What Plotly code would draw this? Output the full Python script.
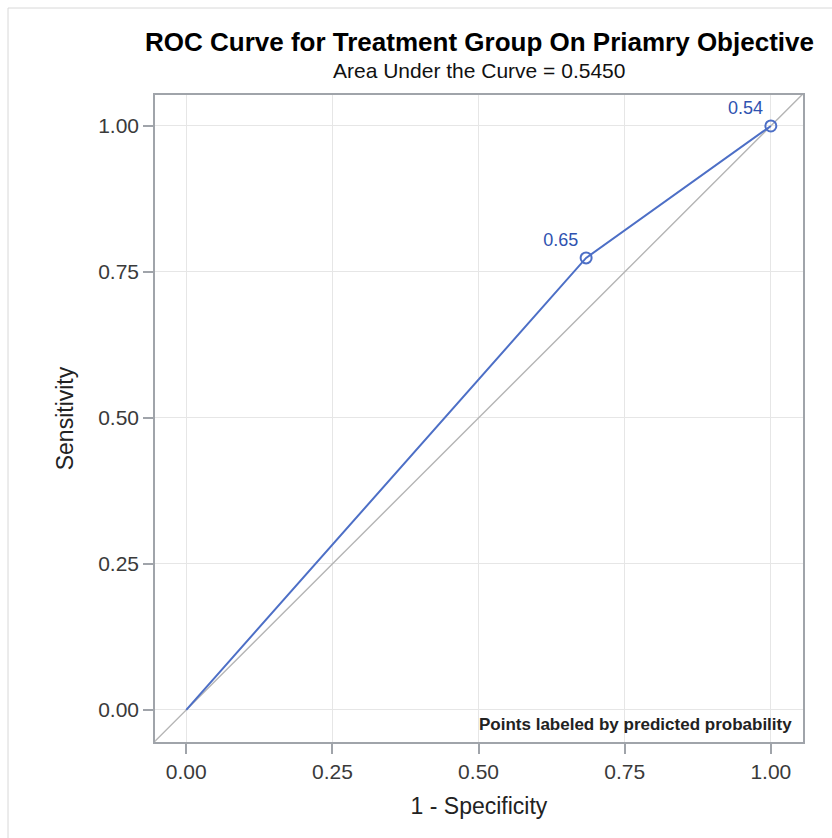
import plotly.graph_objects as go

# Data
fpr = [0.0, 0.684, 1.0]
tpr = [0.0, 0.774, 1.0]
point_labels = ["", "0.65", "0.54"]
ref_line = [-0.1, 1.1]
x_ticks = [0.0, 0.25, 0.5, 0.75, 1.0]
y_ticks = [0.0, 0.25, 0.5, 0.75, 1.0]
x_ticklabels = ["0.00", "0.25", "0.50", "0.75", "1.00"]
y_ticklabels = ["0.00", "0.25", "0.50", "0.75", "1.00"]
auc = 0.5450

FONT = "Liberation Sans, Arial, sans-serif"
BLUE = "#4d6fc6"
LABEL_BLUE = "#2f52b0"
GRID = "#e6e6e6"
AXIS = "#a0a4aa"

# plot area in pixels
L, R, T, B = 155, 803, 95, 742
W, H = 832, 838
PW, PH = R - L, B - T


def py(pix):
    return (B - pix) / PH


def px(pix):
    return (pix - L) / PW


fig = go.Figure()

# reference diagonal
fig.add_trace(go.Scatter(x=ref_line, y=ref_line, mode="lines",
                         line=dict(color="#b4b4b4", width=1.4),
                         hoverinfo="skip", showlegend=False))

# ROC curve line
fig.add_trace(go.Scatter(x=fpr, y=tpr, mode="lines",
                         line=dict(color=BLUE, width=2),
                         showlegend=False))

# labeled points
fig.add_trace(go.Scatter(x=fpr[1:], y=tpr[1:], mode="markers+text",
                         marker=dict(symbol="circle-open", size=11,
                                     color=BLUE, line=dict(width=2)),
                         text=point_labels[1:], textposition="top left",
                         textfont=dict(family=FONT, size=18, color=LABEL_BLUE),
                         cliponaxis=False, showlegend=False))

fig.update_layout(
    width=W, height=H,
    paper_bgcolor="white", plot_bgcolor="white",
    margin=dict(l=L, r=W - R, t=T, b=H - B),
    font=dict(family=FONT, color="#333333"),
    annotations=[
        dict(text="<b>ROC Curve for Treatment Group On Priamry Objective</b>",
             xref="paper", yref="paper", x=0.5, y=py(42),
             xanchor="center", yanchor="middle", showarrow=False,
             font=dict(family=FONT, size=26, color="#000000")),
        dict(text="Area Under the Curve = %.4f" % auc, xref="paper", yref="paper",
             x=0.5, y=py(71), xanchor="center", yanchor="middle",
             showarrow=False, font=dict(family=FONT, size=21, color="#111111")),
        dict(text="<b>Points labeled by predicted probability</b>", xref="paper", yref="paper",
             x=px(794), y=py(736), xanchor="right", yanchor="bottom",
             showarrow=False, font=dict(family=FONT, size=17, color="#222222")),
    ],
    shapes=[
        dict(type="line", xref="paper", yref="paper",
             x0=px(8), x1=px(8), y0=py(900), y1=py(8),
             line=dict(color="#d8d8d8", width=1)),
        dict(type="line", xref="paper", yref="paper",
             x0=px(8), x1=px(900), y0=py(8), y1=py(8),
             line=dict(color="#d8d8d8", width=1)),
    ],
)

fig.update_xaxes(range=[-0.0535, 1.055], tickvals=x_ticks, ticktext=x_ticklabels,
                 showgrid=True, gridcolor=GRID, gridwidth=1, zeroline=False,
                 showline=True, linecolor=AXIS, linewidth=1.5, mirror=True,
                 ticks="outside", ticklen=10, tickcolor=AXIS, tickwidth=1.5,
                 tickfont=dict(family=FONT, size=21, color="#3a3a3a"),
                 title=dict(text="1 - Specificity", standoff=16,
                            font=dict(family=FONT, size=23, color="#222222")))
fig.update_yaxes(range=[-0.055, 1.053], tickvals=y_ticks, ticktext=y_ticklabels,
                 showgrid=True, gridcolor=GRID, gridwidth=1, zeroline=False,
                 showline=True, linecolor=AXIS, linewidth=1.5, mirror=True,
                 ticks="outside", ticklen=10, tickcolor=AXIS, tickwidth=1.5,
                 tickfont=dict(family=FONT, size=21, color="#3a3a3a"),
                 title=dict(text="Sensitivity", standoff=18,
                            font=dict(family=FONT, size=23, color="#222222")))

fig.write_html("out.html", config={"displayModeBar": False},
               post_script="document.body.style.margin='0';document.body.style.overflow='hidden';")
